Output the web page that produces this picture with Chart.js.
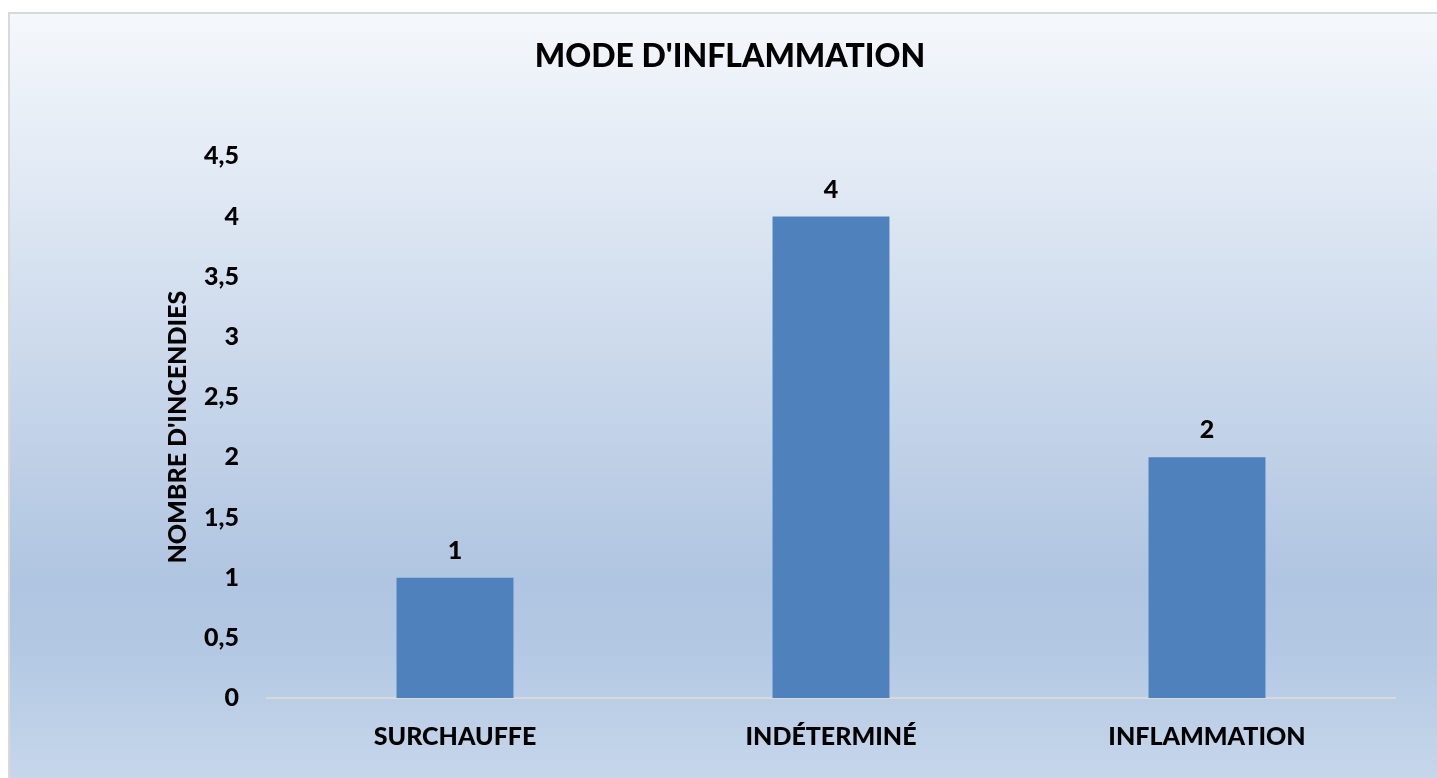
<!DOCTYPE html>
<html>
<head>
<meta charset="utf-8">
<script src="https://cdn.jsdelivr.net/npm/chart.js@4.4.0/dist/chart.umd.min.js"></script>
<style>
  body { margin: 0; background: #ffffff; }
  #wrap { width: 1437px; height: 778px; }
</style>
</head>
<body>
<div id="wrap"><canvas id="myChart" width="1437" height="778"></canvas></div>
<script>
// categories and values
const categories = ['SURCHAUFFE', 'INDÉTERMINÉ', 'INFLAMMATION'];
const incendies = [1, 4, 2];

// y axis range
const yMin = 0;
const yMax = 4.5;
const yStep = 0.5;

const FONT = 'Lato, "Open Sans", "Liberation Sans", sans-serif';
const BAR_COLOR = '#4f81bd';

//frame with the light blue gradient behind everything
const backgroundPlugin = {
  id: 'frameBackground',
  beforeDraw(chart) {
    const ctx = chart.ctx;
    const x0 = 9, y0 = 13;
    const w = chart.width - x0 + 2, h = chart.height - y0 + 2;
    const grad = ctx.createLinearGradient(0, y0, 0, y0 + h);
    grad.addColorStop(0, '#f5f8fc');
    grad.addColorStop(0.74, '#b0c5e1');
    grad.addColorStop(0.83, '#b3c8e3');
    grad.addColorStop(1, '#c6d7eb');
    ctx.save();
    ctx.fillStyle = grad;
    ctx.fillRect(x0, y0, w, h);
    ctx.strokeStyle = '#d9d9d9';
    ctx.lineWidth = 2;
    ctx.strokeRect(x0, y0, w, h);
    ctx.restore();
  }
};

//value above each bar
const valueLabels = {
  id: 'valueLabels',
  afterDatasetsDraw(chart) {
    const ctx = chart.ctx;
    ctx.save();
    ctx.font = '900 25px ' + FONT;
    ctx.fillStyle = '#000000';
    ctx.textAlign = 'center';
    ctx.textBaseline = 'middle';
    chart.data.datasets.forEach((ds, i) => {
      chart.getDatasetMeta(i).data.forEach((bar, j) => {
        ctx.fillText(String(ds.data[j]).replace('.', ','), bar.x, bar.y - 27);
      });
    });
    ctx.restore();
  }
};

const config = {
  type: 'bar',
  data: {
    labels: categories,
    datasets: [{
      label: "Nombre d'incendies",
      data: incendies,
      backgroundColor: BAR_COLOR,
      borderWidth: 0,
      barPercentage: 0.311,
      categoryPercentage: 1
    }]
  },
  options: {
    responsive: false,
    devicePixelRatio: 1,
    animation: false,
    layout: {
      padding: { left: 65, top: 13, right: 42, bottom: 0 }
    },
    plugins: {
      legend: { display: false },
      tooltip: { enabled: false },
      title: {
        display: true,
        text: "MODE D'INFLAMMATION",
        color: '#000000',
        font: { family: FONT, size: 32, weight: '900', lineHeight: 1.2 },
        padding: { top: 24, bottom: 81 }
      }
    },
    scales: {
      x: {
        grid: { display: false, drawTicks: false },
        border: { display: true, color: '#d9d9d9', width: 2 },
        ticks: {
          color: '#000000',
          padding: 24,
          font: { family: FONT, size: 25, weight: '900' }
        },
        afterFit(scale) { scale.height = 80; }
      },
      y: {
        min: yMin,
        max: yMax,
        grid: { display: false, drawTicks: false },
        border: { display: false },
        ticks: {
          stepSize: yStep,
          color: '#000000',
          padding: 28,
          font: { family: FONT, size: 25, weight: '900' },
          callback: v => String(v).replace('.', ',')
        },
        title: {
          display: true,
          text: "NOMBRE D'INCENDIES",
          color: '#000000',
          font: { family: FONT, size: 25, weight: '900', lineHeight: 1.2 },
          padding: { top: 98, bottom: 0 }
        },
        afterFit(scale) { scale.width = 202; }
      }
    }
  },
  plugins: [backgroundPlugin, valueLabels]
};

const myChart = new Chart(document.getElementById('myChart'), config);
</script>
</body>
</html>
